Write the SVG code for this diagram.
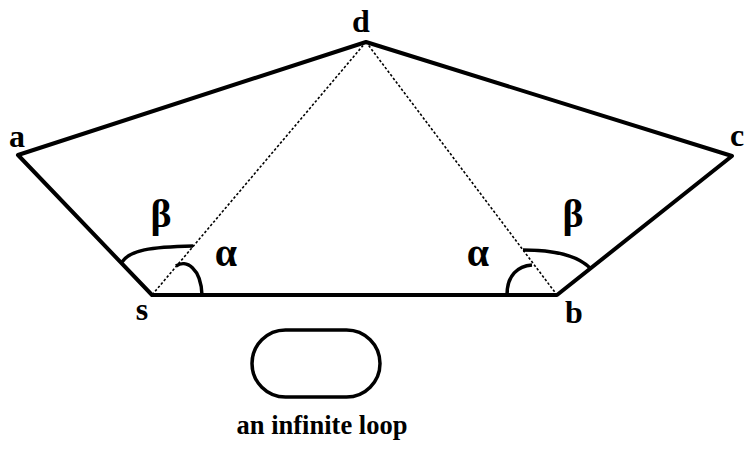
<svg xmlns="http://www.w3.org/2000/svg" width="745" height="450" viewBox="0 0 745 450">
<style>
.edge{stroke:#000;stroke-width:4;fill:none;stroke-linecap:round;stroke-linejoin:round}
.dot{stroke:#000;stroke-width:1.6;fill:none;stroke-dasharray:2.5,2}
.arc{stroke:#000;stroke-width:3.5;fill:none}
.lbl{font-family:"Liberation Serif",serif;font-weight:bold;font-size:32px;fill:#000}
.gr{font-family:"Liberation Serif",serif;font-weight:bold;font-size:40px;fill:#000}
.cap{font-family:"Liberation Serif",serif;font-weight:bold;font-size:26.5px;fill:#000}
</style>
<rect width="745" height="450" fill="#fff"/>
<g id="connectors">
<path class="edge" d="M18,155 L366,42 L732,156 L557,295 L152,295 Z"/>
<line class="dot" x1="366" y1="42" x2="152" y2="295"/>
<line class="dot" x1="366" y1="42" x2="557" y2="295"/>
</g>
<g id="angles">
<path class="arc" d="M176,266 C186,259 201,268 202,295"/>
<path class="arc" d="M122,262 C130,250 150,247 193,246"/>
<path class="arc" d="M507,295 C507,275 518,266 532,265"/>
<path class="arc" d="M523,250 C555,250 578,256 590,268"/>
<text class="gr" x="161" y="227" text-anchor="middle">β</text>
<text class="gr" x="573" y="227" text-anchor="middle">β</text>
<text class="gr" x="226" y="266" text-anchor="middle">α</text>
<text class="gr" x="478" y="266" text-anchor="middle">α</text>
</g>
<g id="node-a"><text class="lbl" x="17" y="147" text-anchor="middle">a</text></g>
<g id="node-d"><text class="lbl" x="361" y="32" text-anchor="middle">d</text></g>
<g id="node-c"><text class="lbl" x="730" y="146">c</text></g>
<g id="node-s"><text class="lbl" x="142" y="320" text-anchor="middle">s</text></g>
<g id="node-b"><text class="lbl" x="574" y="323" text-anchor="middle">b</text></g>
<g id="node-loop">
<rect x="252" y="330" width="128" height="67" rx="33.5" ry="33.5" fill="none" stroke="#000" stroke-width="3.5"/>
<text class="cap" x="322" y="434" text-anchor="middle">an infinite loop</text>
</g>
</svg>
